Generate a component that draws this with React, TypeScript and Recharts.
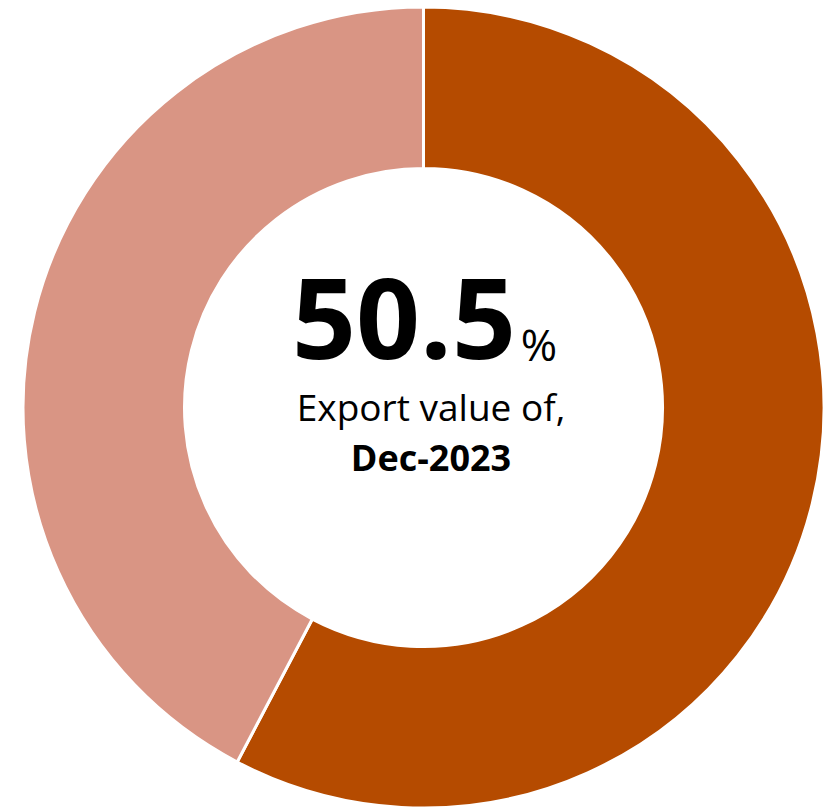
import { PieChart, Pie, Cell, Customized } from "recharts";

const segments = ["Dec-2023", "Other"];
const shares = [57.7, 42.3];
const colors = ["#B54B00", "#D99584"];

const headline = "50.5";
const subtitle = "Export value of,";
const period = "Dec-2023";

const data = segments.map((name, i) => ({ name, value: shares[i] }));

const font = "'Open Sans', 'Noto Sans', sans-serif";

function CenterLabel() {
  return (
    <g fontFamily={font} fill="#000" textAnchor="middle">
      <text x={404} y={359} fontSize={112} fontWeight={700}>
        {headline}
      </text>
      <text x={539} y={361} fontSize={44}>
        %
      </text>
      <text x={431} y={421} fontSize={37}>
        {subtitle}
      </text>
      <text x={431} y={471} fontSize={36} fontWeight={700}>
        {period}
      </text>
    </g>
  );
}

export default function App() {
  return (
    <div
      style={{
        position: "absolute",
        left: 0,
        top: 0,
        width: 825,
        height: 810,
        background: "#fff",
      }}
    >
      <PieChart
        width={825}
        height={810}
        margin={{ top: 0, right: 0, bottom: 0, left: 0 }}
      >
        <Pie
          data={data}
          dataKey="value"
          nameKey="name"
          cx={423.5}
          cy={407.5}
          innerRadius={239}
          outerRadius={400.5}
          startAngle={90}
          endAngle={-270}
          stroke="#fff"
          strokeWidth={3}
          isAnimationActive={false}
        >
          {data.map((d, i) => (
            <Cell key={d.name} fill={colors[i]} />
          ))}
        </Pie>
        <Customized component={CenterLabel} />
      </PieChart>
    </div>
  );
}
